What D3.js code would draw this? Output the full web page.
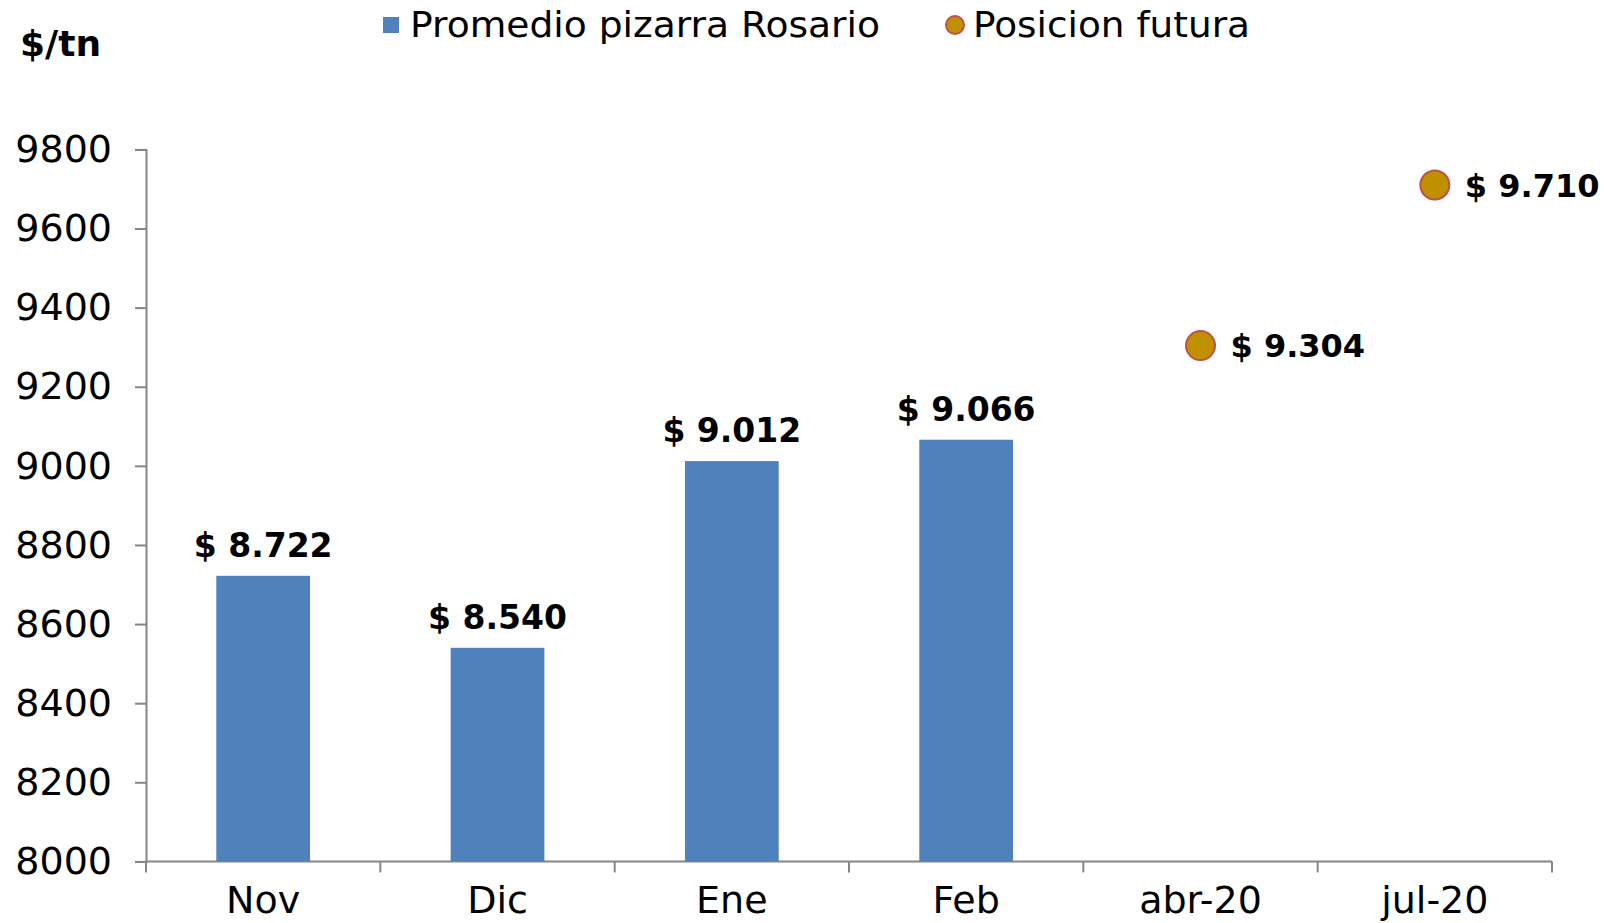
<!DOCTYPE html>
<html>
<head>
<meta charset="utf-8">
<script src="https://cdn.jsdelivr.net/npm/d3@7"></script>
<style>
  body { margin: 0; background: #fff; }
  text { font-family: "DejaVu Sans", sans-serif; fill: #000; }
</style>
</head>
<body>
<div id="chart"></div>
<script>
// categories on the x axis
var categories = ["Nov", "Dic", "Ene", "Feb", "abr-20", "jul-20"];
// monthly average (bars)
var barCats = ["Nov", "Dic", "Ene", "Feb"];
var barValues = [8722, 8540, 9012, 9066];
// future positions (dots)
var dotCats = ["abr-20", "jul-20"];
var dotValues = [9304, 9710];
var yTicks = [8000, 8200, 8400, 8600, 8800, 9000, 9200, 9400, 9600, 9800];

var W = 1604, H = 923;
var margin = {top: 149.4, right: 52, bottom: 61.6, left: 146},
    width = W - margin.left - margin.right,
    height = H - margin.top - margin.bottom;

var svg = d3.select("#chart").append("svg")
    .attr("width", W)
    .attr("height", H);

var g = svg.append("g")
    .attr("transform", "translate(" + margin.left + "," + margin.top + ")");

var x = d3.scaleBand()
    .domain(categories)
    .range([0, width])
    .paddingInner(0.6)
    .paddingOuter(0.3);

var y = d3.scaleLinear()
    .domain([8000, 9800])
    .range([height, 0]);

var fmt = function (v) { return "$ " + d3.format(",")(v).replace(",", "."); };
var axisColor = "#868686";

// y axis
var yAxis = g.append("g")
    .call(d3.axisLeft(y).tickValues(yTicks).tickSize(11).tickPadding(23).tickFormat(d3.format("d")));
yAxis.select(".domain").attr("stroke", axisColor).attr("stroke-width", 2);
yAxis.selectAll(".tick line").attr("stroke", axisColor).attr("stroke-width", 2);
yAxis.selectAll(".tick text")
    .style("font-family", "DejaVu Sans")
    .attr("font-size", 38)
    .attr("fill", "#000");

// x axis: line + ticks on category boundaries
var step = x.step();
var xAxis = g.append("g").attr("transform", "translate(0," + height + ")");
xAxis.append("line")
    .attr("x1", 0).attr("x2", width)
    .attr("stroke", axisColor).attr("stroke-width", 2);
var bounds = categories.map(function (c) { return x(c) - x.paddingOuter() * step; });
bounds.push(width);
xAxis.selectAll(".xtick").data(bounds).enter().append("line")
    .attr("class", "xtick")
    .attr("x1", function (d) { return d; }).attr("x2", function (d) { return d; })
    .attr("y1", 0).attr("y2", 11)
    .attr("stroke", axisColor).attr("stroke-width", 2);
xAxis.selectAll(".xlab").data(categories).enter().append("text")
    .attr("class", "xlab")
    .attr("x", function (d) { return x(d) + x.bandwidth() / 2; })
    .attr("y", 52)
    .attr("text-anchor", "middle")
    .attr("font-size", 38)
    .text(function (d) { return d; });

// bars
var bars = barCats.map(function (c, i) { return {cat: c, v: barValues[i]}; });
g.selectAll(".bar").data(bars).enter().append("rect")
    .attr("class", "bar")
    .attr("x", function (d) { return x(d.cat); })
    .attr("width", x.bandwidth())
    .attr("y", function (d) { return y(d.v); })
    .attr("height", function (d) { return height - y(d.v); })
    .attr("fill", "#4F81BD");

g.selectAll(".blab").data(bars).enter().append("text")
    .attr("class", "blab")
    .attr("x", function (d) { return x(d.cat) + x.bandwidth() / 2; })
    .attr("y", function (d) { return y(d.v) - 19; })
    .attr("text-anchor", "middle")
    .attr("font-size", 33)
    .attr("font-weight", "bold")
    .text(function (d) { return fmt(d.v); });

// dots
var dots = dotCats.map(function (c, i) { return {cat: c, v: dotValues[i]}; });
g.selectAll(".dot").data(dots).enter().append("circle")
    .attr("class", "dot")
    .attr("cx", function (d) { return x(d.cat) + x.bandwidth() / 2; })
    .attr("cy", function (d) { return y(d.v); })
    .attr("r", 14.5)
    .attr("fill", "#BF9000")
    .attr("stroke", "#C0504D")
    .attr("stroke-width", 2);

g.selectAll(".dlab").data(dots).enter().append("text")
    .attr("class", "dlab")
    .attr("x", function (d) { return x(d.cat) + x.bandwidth() / 2 + 30; })
    .attr("y", function (d) { return y(d.v); })
    .attr("dy", "0.36em")
    .attr("font-size", 32)
    .attr("font-weight", "bold")
    .text(function (d) { return fmt(d.v); });

// unit title
svg.append("text")
    .attr("x", 20).attr("y", 56)
    .attr("font-size", 36)
    .attr("font-weight", "bold")
    .text("$/tn");

// legend
var leg = svg.append("g");
leg.append("rect")
    .attr("x", 383).attr("y", 17)
    .attr("width", 16).attr("height", 16)
    .attr("fill", "#4F81BD");
leg.append("text")
    .attr("x", 410).attr("y", 37)
    .attr("font-size", 35)
    .attr("textLength", 470)
    .attr("lengthAdjust", "spacingAndGlyphs")
    .text("Promedio pizarra Rosario");
leg.append("circle")
    .attr("cx", 955).attr("cy", 25).attr("r", 9)
    .attr("fill", "#BF9000")
    .attr("stroke", "#C0504D")
    .attr("stroke-width", 2);
leg.append("text")
    .attr("x", 973).attr("y", 37)
    .attr("font-size", 35)
    .attr("textLength", 277)
    .attr("lengthAdjust", "spacingAndGlyphs")
    .text("Posicion futura");
</script>
</body>
</html>
